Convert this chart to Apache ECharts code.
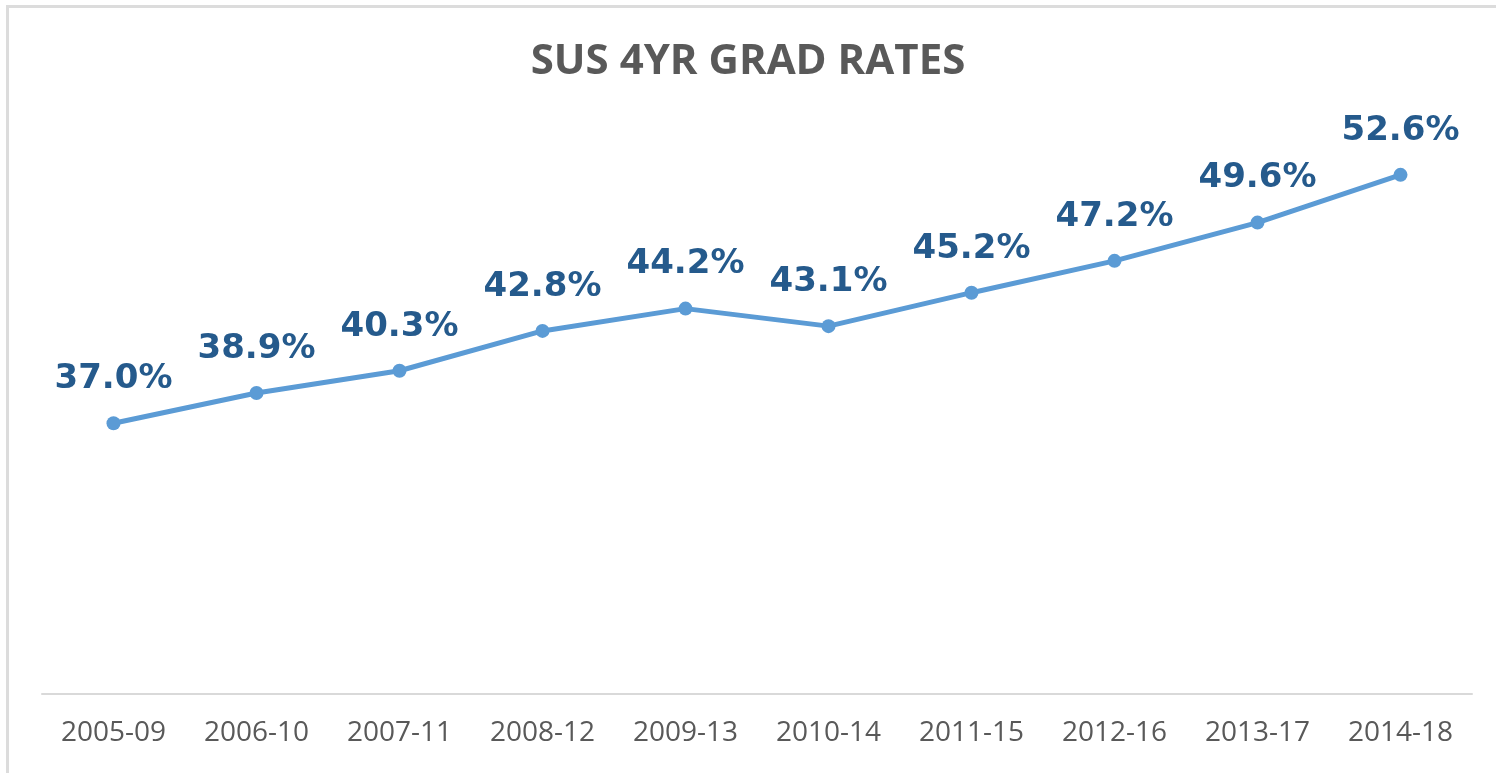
<!DOCTYPE html>
<html>
<head>
<meta charset="utf-8">
<script src="https://cdn.jsdelivr.net/npm/echarts@6/dist/echarts.min.js"></script>
<style>
  html, body { margin: 0; padding: 0; background: #fff; }
  #chart { width: 1496px; height: 773px; }
</style>
</head>
<body>
<div id="chart"></div>
<script>
const periods = ['2005-09', '2006-10', '2007-11', '2008-12', '2009-13', '2010-14', '2011-15', '2012-16', '2013-17', '2014-18']
const gradRates = [37.0, 38.9, 40.3, 42.8, 44.2, 43.1, 45.2, 47.2, 49.6, 52.6]

const chart = echarts.init(document.getElementById('chart'))

chart.setOption({
  backgroundColor: '#ffffff',
  animation: false,
  title: {
    text: 'SUS 4YR GRAD RATES',
    left: 'center',
    top: 36,
    textStyle: { fontFamily: 'Open Sans', fontWeight: 'bold', fontSize: 42, color: '#595959' }
  },
  // thin frame on top and left, like the cropped source image
  graphic: [
    { type: 'rect', shape: { x: 6, y: 5, width: 1490, height: 3 }, style: { fill: '#dcdcdc' } },
    { type: 'rect', shape: { x: 6, y: 5, width: 3, height: 768 }, style: { fill: '#dcdcdc' } }
  ],
  grid: { left: 42, right: 24, top: 57, bottom: 79 },
  xAxis: {
    type: 'category',
    data: periods,
    boundaryGap: true,
    axisLine: { lineStyle: { color: '#d9d9d9', width: 2 } },
    axisTick: { show: false },
    axisLabel: { color: '#595959', fontFamily: 'Open Sans', fontSize: 28, margin: 25 }
  },
  yAxis: {
    type: 'value',
    min: 20,
    max: 60,
    show: false,
    splitLine: { show: false }
  },
  series: [{
    type: 'line',
    data: gradRates,
    symbol: 'circle',
    symbolSize: 14,
    lineStyle: { color: '#5b9bd5', width: 5 },
    itemStyle: { color: '#5b9bd5' },
    label: {
      show: true,
      position: 'top',
      distance: 20,
      formatter: p => p.value.toFixed(1) + '%',
      fontFamily: 'DejaVu Sans',
      fontWeight: 'bold',
      fontSize: 34,
      color: '#255a8c'
    }
  }]
})
</script>
</body>
</html>
